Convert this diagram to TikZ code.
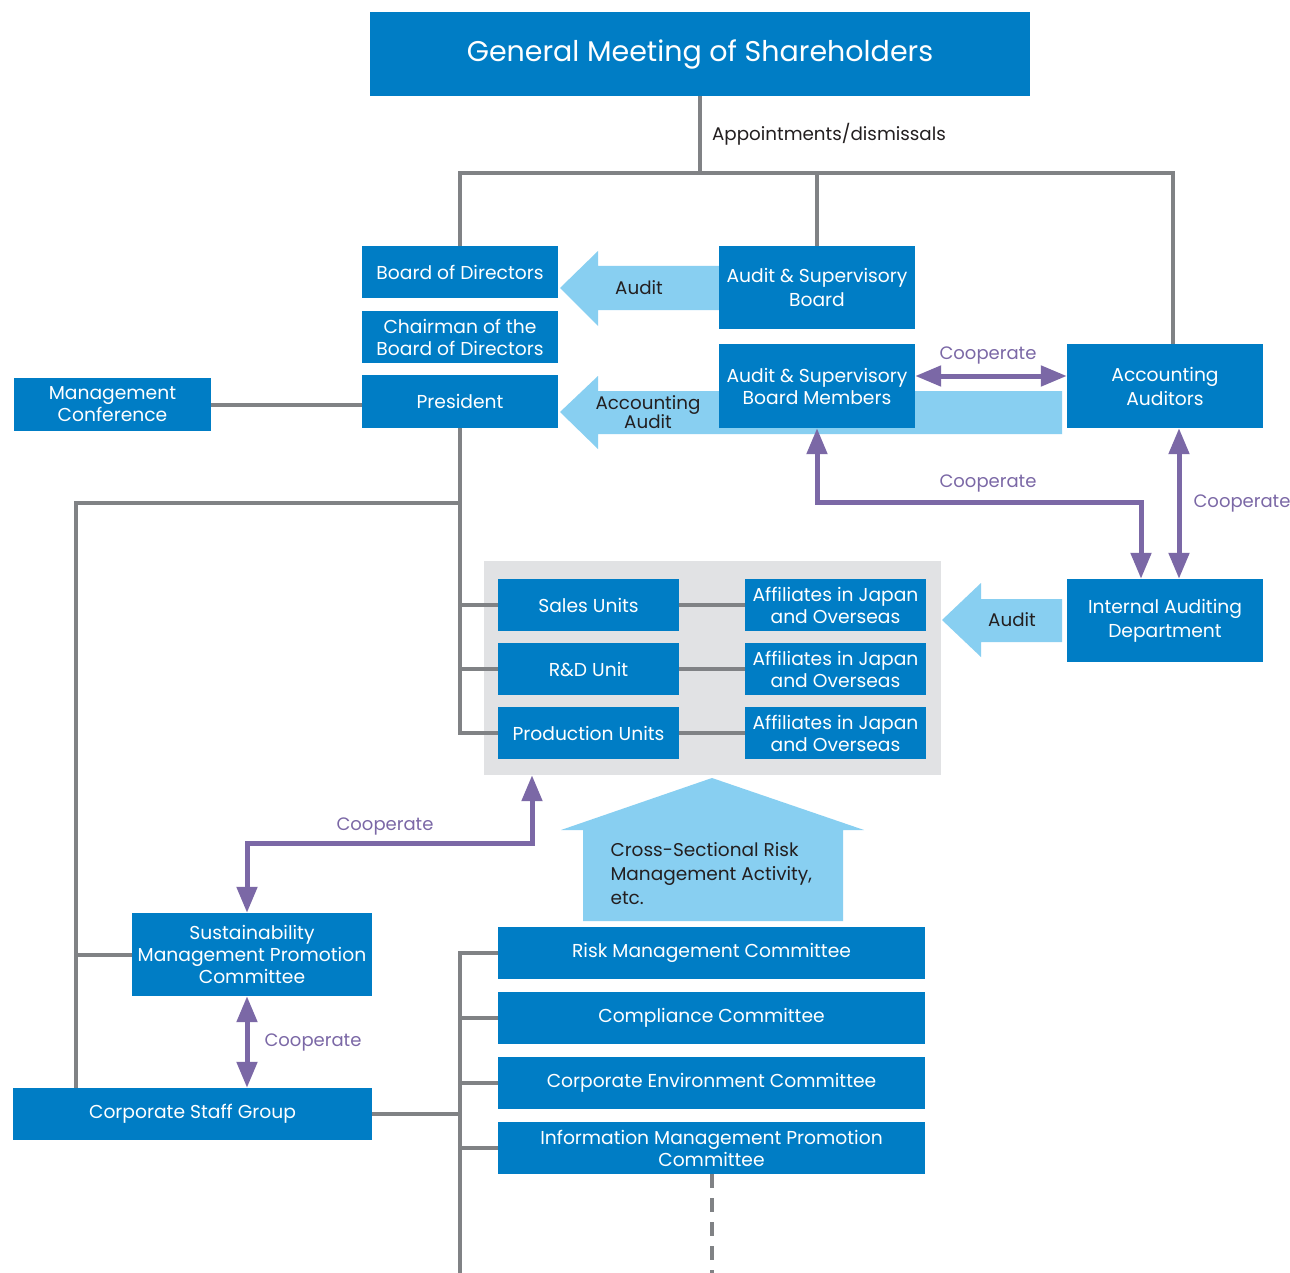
\documentclass[tikz,border=0pt]{standalone}
\usepackage{fontspec}
\setmainfont{Poppins}
\usetikzlibrary{arrows.meta}
\definecolor{boxblue}{HTML}{007DC5}
\definecolor{lightblue}{HTML}{88CFF1}
\definecolor{coopp}{HTML}{7B68A6}
\definecolor{linegray}{HTML}{808285}
\definecolor{panelgray}{HTML}{E1E2E4}
\definecolor{darktext}{HTML}{231F20}
\begin{document}
\begin{tikzpicture}[x=1pt,y=-1pt,
  box/.style={fill=boxblue, text=white, inner sep=0pt, align=center, font=\fontsize{18.7}{22}\selectfont},
  wh/.style 2 args={minimum width=#1pt, minimum height=#2pt},
  conn/.style={draw=linegray, line width=4pt},
  coop/.style={draw=coopp, line width=5pt, {Triangle[width=20pt,length=26pt]}-{Triangle[width=20pt,length=26pt]}},
  lbl/.style={text=coopp, font=\fontsize{18}{20}\selectfont},
  dlbl/.style={text=darktext, font=\fontsize{18.3}{19}\selectfont, align=center}]
\useasboundingbox (0,0) rectangle (1290,1273);
\fill[white] (0,0) rectangle (1290,1273);

% grey panel
\node[fill=panelgray, wh={457}{214}, inner sep=0pt] (panel) at (712.5,668) {};

% big light-blue arrows
\fill[lightblue] (719,266) -- (598,266) -- (598,251) -- (560,288) -- (598,326) -- (598,310) -- (719,310) -- cycle;
\fill[lightblue] (1062,391) -- (598,391) -- (598,376) -- (560,412) -- (598,449) -- (598,434) -- (1062,434) -- cycle;
\fill[lightblue] (1062,599) -- (981,599) -- (981,583) -- (942,620) -- (981,657) -- (981,642) -- (1062,642) -- cycle;
\fill[lightblue] (712,778) -- (864,830) -- (843,830) -- (843,921) -- (583,921) -- (583,830) -- (561,830) -- cycle;

% nodes
\node[box, wh={660}{84}, font=\fontsize{28.5}{30}\selectfont] (gms) at (700,54) {General Meeting of Shareholders};
\node[box, wh={196}{52}] (bod) at (460,272) {Board of Directors};
\node[box, wh={196}{52}] (chair) at (460,337) {Chairman of the\\Board of Directors};
\node[box, wh={196}{53}] (pres) at (460,401.5) {President};
\node[box, wh={197}{53}] (mc) at (112.5,404.5) {Management\\Conference};
\node[box, wh={196}{83}, font=\fontsize{18.7}{24}\selectfont] (asb) at (817,287.5) {Audit \& Supervisory\\Board};
\node[box, wh={196}{84}] (asbm) at (817,386) {Audit \& Supervisory\\Board Members};
\node[box, wh={196}{84}, font=\fontsize{18.7}{24}\selectfont] (aa) at (1165,386) {Accounting\\Auditors};
\node[box, wh={196}{83}, font=\fontsize{18.7}{24}\selectfont] (iad) at (1165,620.5) {Internal Auditing\\Department};
\node[box, wh={181}{52}] (sales) at (588.5,605) {Sales Units};
\node[box, wh={181}{52}] (rd) at (588.5,669) {R\&D Unit};
\node[box, wh={181}{52}] (prod) at (588.5,733) {Production Units};
\node[box, wh={181}{52}] (aff1) at (835.5,605) {Affiliates in Japan\\and Overseas};
\node[box, wh={181}{52}] (aff2) at (835.5,669) {Affiliates in Japan\\and Overseas};
\node[box, wh={181}{52}] (aff3) at (835.5,733) {Affiliates in Japan\\and Overseas};
\node[box, wh={240}{83}] (smpc) at (252,954.5) {Sustainability\\Management Promotion\\Committee};
\node[box, wh={359}{52}] (csg) at (192.5,1114) {Corporate Staff Group};
\node[box, wh={427}{52}] (rmc) at (711.5,953) {Risk Management Committee};
\node[box, wh={427}{52}] (cc) at (711.5,1018) {Compliance Committee};
\node[box, wh={427}{52}] (cec) at (711.5,1083) {Corporate Environment Committee};
\node[box, wh={427}{52}] (imp) at (711.5,1148) {Information Management Promotion\\Committee};

% labels
\node[dlbl] (lappt) at (829,134) {Appointments/dismissals};
\node[dlbl] (laud1) at (639,288) {Audit};
\node[dlbl] (laud2) at (648,412) {Accounting\\Audit};
\node[dlbl] (laud3) at (1012,620) {Audit};
\node[dlbl, align=left, anchor=west, font=\fontsize{18.5}{24}\selectfont] (lrisk) at (607,874) {Cross-Sectional Risk\\Management Activity,\\etc.};
\node[lbl] (lc1) at (988,355) {Cooperate};
\node[lbl] (lc2) at (988,483) {Cooperate};
\node[lbl] (lc3) at (1242,503) {Cooperate};
\node[lbl] (lc4) at (385,826) {Cooperate};
\node[lbl] (lc5) at (313,1042) {Cooperate};

% gray connectors
\coordinate (top) at (700,173);
\coordinate (topr) at (1173,173);
\draw[conn] (gms.south) -- (top);
\draw[conn] (bod.north) |- (topr) -- (topr |- aa.north);
\draw[conn] (asb.north) -- (asb.north |- top);
\draw[conn] (mc.east) -- (mc.east -| pres.west);
\draw[conn] (pres.south) |- (prod.west);
\draw[conn] (pres.south |- sales.west) -- (sales.west);
\draw[conn] (pres.south |- rd.west) -- (rd.west);
\draw[conn] (sales.east) -- (aff1.west);
\draw[conn] (rd.east) -- (aff2.west);
\draw[conn] (prod.east) -- (aff3.west);
\coordinate (lj) at (460,503);
\coordinate (lc) at (76,503);
\draw[conn] (lj) -- (lc) -- (lc |- csg.north);
\draw[conn] (lc |- smpc.west) -- (smpc.west);
\coordinate (bt) at (460,1275);
\draw[conn] (rmc.west) -| (bt);
\draw[conn] (cc.west) -- (cc.west -| bt);
\draw[conn] (cec.west) -- (cec.west -| bt);
\draw[conn] (imp.west) -- (imp.west -| bt);
\draw[conn] (csg.east) -- (csg.east -| bt);
\draw[conn, dash pattern=on 14pt off 10pt] (imp.south) -- (imp.south |- bt);

% cooperate arrows
\draw[coop] (asbm.east |- 0,376) -- (aa.west |- 0,376);
\coordinate (c1) at (1141,502);
\draw[coop] (asbm.south) |- (c1) -- (c1 |- iad.north);
\draw[coop] (aa.south -| 1179,0) -- (iad.north -| 1179,0);
\coordinate (c2) at (247,843);
\draw[coop] (panel.south -| 532,0) |- (c2) -- (c2 |- smpc.north);
\draw[coop] (smpc.south -| c2) -- (csg.north -| c2);
\end{tikzpicture}
\end{document}
